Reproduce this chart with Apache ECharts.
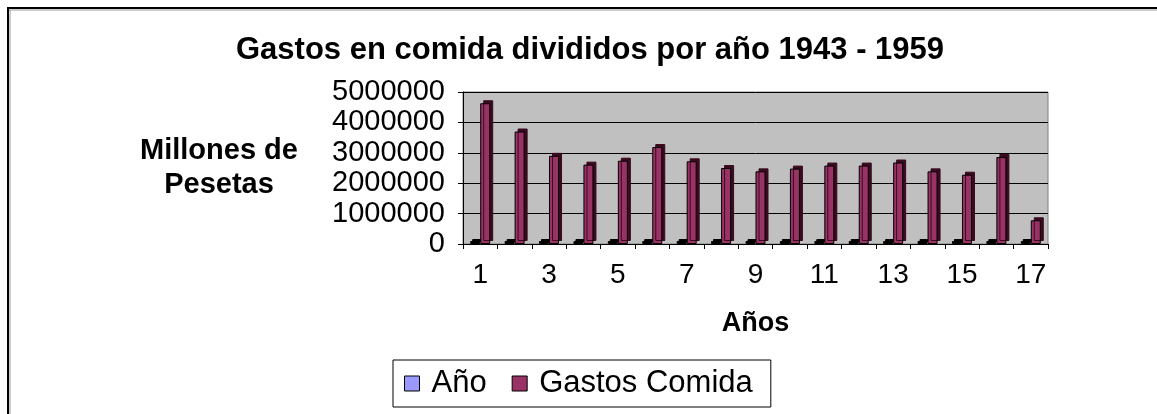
<!DOCTYPE html>
<html lang="es">
<head>
    <meta charset="UTF-8">
    <title>Gastos en comida</title>
    <style type="text/css">
        body{
            margin: 0px;
            padding: 0px;
            background: #ffffff;
        }
        #chart{
            width: 1157px;
            height: 414px;
        }
    </style>
</head>
<body>
    <div id="chart"></div>
</body>
<script type="text/javascript" src="https://cdn.jsdelivr.net/npm/echarts@6/dist/echarts.min.js"></script>
<script type="text/javascript">
    // datos
    var years = ['1', '2', '3', '4', '5', '6', '7', '8', '9', '10', '11', '12', '13', '14', '15', '16', '17'];
    var anio = [1943, 1944, 1945, 1946, 1947, 1948, 1949, 1950, 1951, 1952, 1953, 1954, 1955, 1956, 1957, 1958, 1959];
    var gastosComida = [4630000, 3700000, 2900000, 2610000, 2740000, 3190000, 2720000, 2500000, 2390000,
                        2480000, 2580000, 2580000, 2680000, 2390000, 2280000, 2860000, 780000];
    var yTicks = [0, 1000000, 2000000, 3000000, 4000000, 5000000];

    var font = 'Liberation Sans, Arial, sans-serif';

    var option = {
        animation: false,
        textStyle: {fontFamily: font, color: '#000'},
        title: {
            text: 'Gastos en comida divididos por año 1943 - 1959',
            left: 585,
            top: 30,
            textAlign: 'center',
            textStyle: {fontFamily: font, fontSize: 31, fontWeight: 'bold', color: '#000'}
        },
        legend: {
            left: 393,
            top: 360,
            padding: [8, 18, 8, 11],
            borderColor: '#000',
            borderWidth: 1,
            itemWidth: 15,
            itemHeight: 15,
            itemGap: 25,
            icon: 'rect',
            itemStyle: {borderColor: '#000', borderWidth: 1, shadowBlur: 0, shadowOffsetX: 0, shadowOffsetY: 0},
            textStyle: {fontFamily: font, fontSize: 31, color: '#000', padding: [0, 0, 0, 7]},
            data: [
                {name: 'Año', itemStyle: {color: '#9999ff'}},
                {name: 'Gastos Comida', itemStyle: {color: '#993366'}}
            ]
        },
        grid: {
            left: 463,
            top: 92,
            width: 585,
            height: 152,
            show: true,
            backgroundColor: '#c0c0c0',
            borderColor: '#808080',
            borderWidth: 1
        },
        xAxis: {
            type: 'category',
            data: years,
            name: 'Años',
            nameLocation: 'middle',
            nameGap: 66,
            nameTextStyle: {fontFamily: font, fontSize: 27, fontWeight: 'bold', color: '#000'},
            axisLine: {lineStyle: {color: '#000', width: 1}},
            axisTick: {show: true, interval: 0, length: 5, lineStyle: {color: '#000'}},
            axisLabel: {interval: 1, margin: 17, fontFamily: font, fontSize: 28, color: '#000'}
        },
        yAxis: {
            type: 'value',
            min: yTicks[0],
            max: yTicks[yTicks.length - 1],
            interval: yTicks[1] - yTicks[0],
            name: 'Millones de\nPesetas',
            nameLocation: 'middle',
            nameRotate: 0,
            nameGap: 244,
            nameTextStyle: {fontFamily: font, fontSize: 29, fontWeight: 'bold', color: '#000',
                            align: 'center', verticalAlign: 'middle', lineHeight: 34},
            axisLine: {show: true, lineStyle: {color: '#000', width: 1}},
            axisTick: {show: true, length: 5, lineStyle: {color: '#000'}},
            axisLabel: {
                margin: 18, fontFamily: font, fontSize: 29, color: '#000',
                formatter: function (v) { return String(v); }
            },
            splitLine: {show: true, lineStyle: {color: '#000', width: 1}}
        },
        series: [
            {
                name: 'Año',
                type: 'bar',
                data: anio,
                barWidth: 10,
                barGap: '0%',
                barMinHeight: 3,
                itemStyle: {color: '#000', borderColor: '#000', borderWidth: 1,
                            shadowColor: '#000', shadowOffsetX: 2, shadowOffsetY: -2, shadowBlur: 0}
            },
            {
                name: 'Gastos Comida',
                type: 'bar',
                data: gastosComida,
                barWidth: 10,
                itemStyle: {color: '#993366', borderColor: '#000', borderWidth: 1,
                            shadowColor: '#3a0a1f', shadowOffsetX: 3, shadowOffsetY: -3, shadowBlur: 0}
            }
        ],
        // marco del grafico
        graphic: [
            {type: 'line', shape: {x1: 7, y1: 8, x2: 1157, y2: 8}, style: {stroke: '#000', lineWidth: 2}},
            {type: 'line', shape: {x1: 8, y1: 8, x2: 8, y2: 414}, style: {stroke: '#000', lineWidth: 2}},
            {type: 'line', shape: {x1: 9, y1: 10, x2: 1157, y2: 10}, style: {stroke: '#999', lineWidth: 1}},
            {type: 'line', shape: {x1: 10, y1: 10, x2: 10, y2: 414}, style: {stroke: '#999', lineWidth: 1}}
        ]
    };

    var myChart = echarts.init(document.getElementById('chart'));
    myChart.setOption(option);
</script>
</html>
